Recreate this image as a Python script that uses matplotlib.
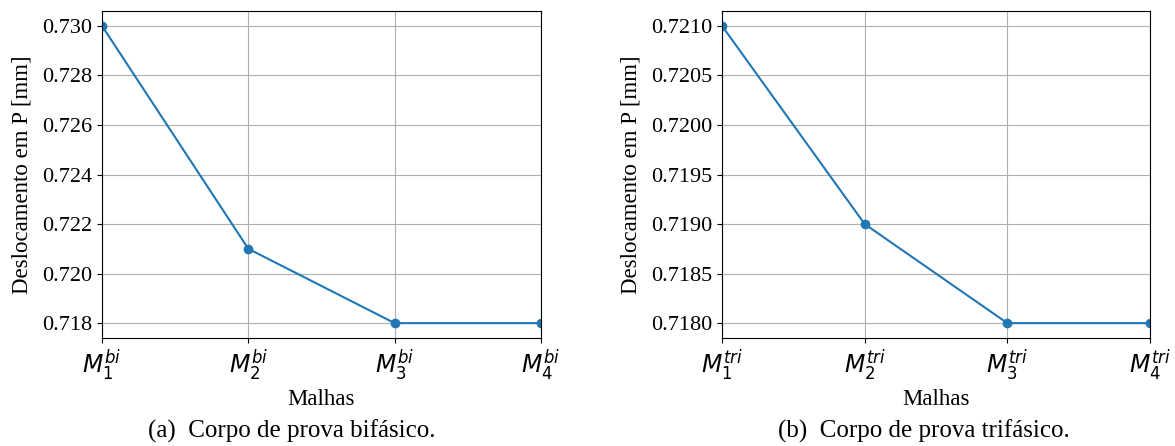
import matplotlib.pyplot as plt

plt.rcParams['font.family'] = ['Liberation Serif', 'DejaVu Serif']

malhas_bi = [r'$M_1^{bi}$', r'$M_2^{bi}$', r'$M_3^{bi}$', r'$M_4^{bi}$']
desloc_bi = [0.730, 0.721, 0.718, 0.718]

malhas_tri = [r'$M_1^{tri}$', r'$M_2^{tri}$', r'$M_3^{tri}$', r'$M_4^{tri}$']
desloc_tri = [0.7210, 0.7190, 0.7180, 0.7180]

fig = plt.figure(figsize=(11.75, 4.46), dpi=100)
ax1 = fig.add_axes([102/1175, 1 - 338/446, 439/1175, 327/446])
ax2 = fig.add_axes([722/1175, 1 - 338/446, 428/1175, 327/446])

for ax, labels, vals, fmt in [(ax1, malhas_bi, desloc_bi, '%.3f'),
                              (ax2, malhas_tri, desloc_tri, '%.4f')]:
    x = range(len(vals))
    ax.plot(x, vals, marker='o', markersize=6, linewidth=1.5, color='#1f77b4')
    ax.set_xlim(0, 3)
    ax.set_xticks(list(x))
    ax.set_xticklabels(labels, fontsize=17)
    ax.yaxis.set_major_formatter(plt.FormatStrFormatter(fmt))
    ax.tick_params(axis='y', labelsize=16)
    ax.grid(True, color='#b0b0b0', linewidth=0.8)
    ax.set_xlabel('Malhas', fontsize=16.5, labelpad=4)
    ax.set_ylabel('Deslocamento em P [mm]', fontsize=16.5, labelpad=7)

ax1.set_yticks([0.718, 0.720, 0.722, 0.724, 0.726, 0.728, 0.730])
ax2.set_yticks([0.7180, 0.7185, 0.7190, 0.7195, 0.7200, 0.7205, 0.7210])

fig.text(292/1175, 1 - 431/446, '(a)  Corpo de prova bifásico.', ha='center', va='center', fontsize=18)
fig.text(924/1175, 1 - 431/446, '(b)  Corpo de prova trifásico.', ha='center', va='center', fontsize=18)

fig.savefig('out.png', dpi=100)
